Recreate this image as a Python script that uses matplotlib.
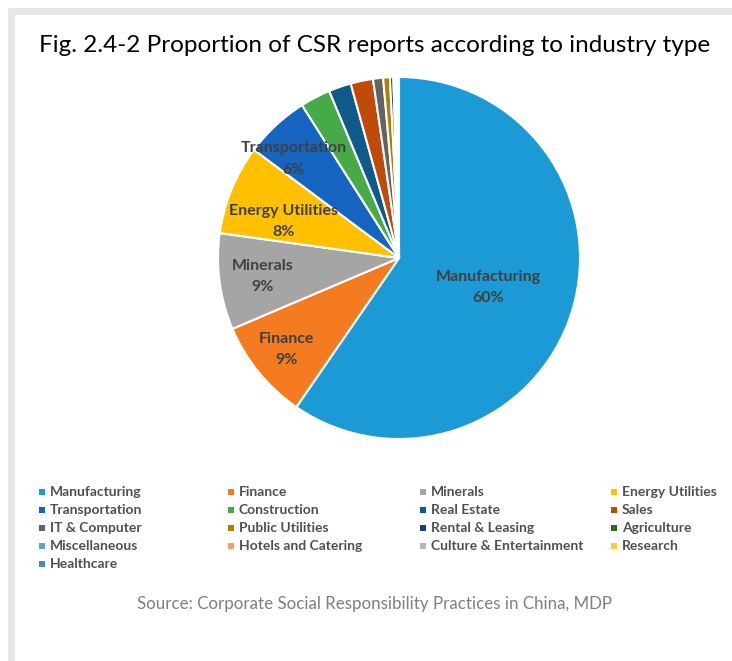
import matplotlib
matplotlib.use("Agg")
import matplotlib.pyplot as plt
from matplotlib.patches import Rectangle
import numpy as np

# Data: share of CSR reports by industry (%)
categories = ["Manufacturing", "Finance", "Minerals", "Energy Utilities",
              "Transportation", "Construction", "Real Estate", "Sales",
              "IT & Computer", "Public Utilities", "Rental & Leasing", "Agriculture",
              "Miscellaneous", "Hotels and Catering", "Culture & Entertainment", "Research",
              "Healthcare"]
shares = [59.6, 9.0, 8.6, 8.0,
          5.8, 2.7, 2.0, 2.0,
          0.9, 0.6, 0.3, 0.1,
          0.1, 0.1, 0.1, 0.05,
          0.05]
colors = ["#1B9AD6", "#F47B20", "#A5A5A5", "#FFC000",
          "#1565C0", "#46AA46", "#0E5A8A", "#C04A0A",
          "#636363", "#B08000", "#1F3B70", "#2E6B1F",
          "#5BA3E0", "#F4A060", "#B7B7B7", "#FFCD33",
          "#4A86C8"]
labeled = 5
label_radius = [0.52, 0.80, 0.76, 0.67, 0.80]
label_turn = [-1.0, 0.0, 0.0, 5.0, 4.0]

title = "Fig. 2.4-2 Proportion of CSR reports according to industry type"
source = "Source: Corporate Social Responsibility Practices in China, MDP"

W, H = 732, 661
fig = plt.figure(figsize=(W / 100, H / 100), dpi=100)
fig.patch.set_facecolor("white")


def px(x, y):
    return x / W, 1 - y / H


# Gray frame strips along the top and left edges
fig.add_artist(Rectangle((8 / W, 0), 7 / W, 1 - 8 / H,
                         transform=fig.transFigure, color="#E6E6E6", lw=0))
fig.add_artist(Rectangle((8 / W, 1 - 15 / H), 1 - 8 / W, 7 / H,
                         transform=fig.transFigure, color="#E6E6E6", lw=0))

fig.text(*px(375, 45), title, ha="center", va="center",
         fontsize=17.5, family="Lato", color="#000000")

# Pie
cx, cy, r = 399, 258, 181
ax = fig.add_axes([(cx - r) / W, (H - cy - r) / H, 2 * r / W, 2 * r / H])
wedges, _ = ax.pie(shares, colors=colors, startangle=90, counterclock=False,
                   radius=1, wedgeprops=dict(edgecolor="white", linewidth=1.5))
ax.set_xlim(-1, 1)
ax.set_ylim(-1, 1)
ax.set_aspect("equal")
ax.axis("off")

for i in range(labeled):
    w = wedges[i]
    th = np.deg2rad((w.theta1 + w.theta2) / 2 + label_turn[i])
    rr = label_radius[i]
    ax.text(rr * np.cos(th), rr * np.sin(th),
            f"{categories[i]}\n{round(shares[i]):d}%",
            ha="center", va="center", fontsize=11.5, fontweight="bold",
            family="Lato", color="#404040", linespacing=1.65)

# Legend laid out row by row in four columns
col_x = [42, 231, 423, 614]
row_y = [492, 510, 528, 546, 564]
for i, (name, col) in enumerate(zip(categories, colors)):
    rI, cI = divmod(i, 4)
    x, y = col_x[cI], row_y[rI]
    fig.add_artist(Rectangle(px(x - 3, y + 3), 6 / W, 6 / H,
                             transform=fig.transFigure, color=col, lw=0))
    fig.text(*px(x + 8, y), name, ha="left", va="center", fontsize=10,
             family="Lato", fontweight="bold", color="#505050")

fig.text(*px(375, 604), source, ha="center", va="center", fontsize=12.2,
         family="Lato", color="#7F7F7F")

fig.savefig("out.png", dpi=100, facecolor="white")
